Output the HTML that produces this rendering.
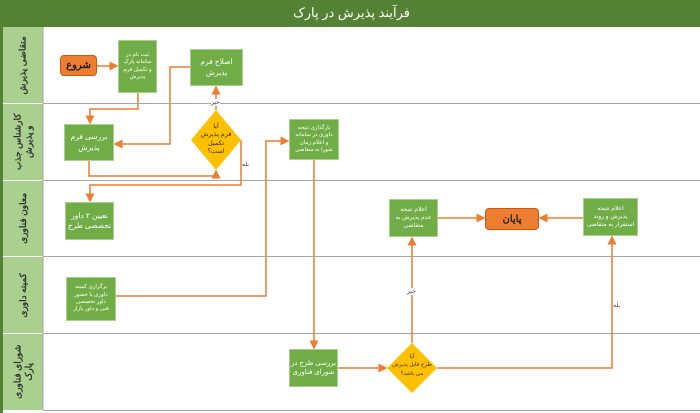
<!DOCTYPE html>
<html><head><meta charset="utf-8"><style>
body{margin:0;width:700px;height:413px;overflow:hidden;background:#fff;font-family:"Liberation Sans","Noto Sans CJK SC",sans-serif;}
.a{position:absolute;}
.b{position:absolute;background:#70ad47;border:1px solid #a9d08e;color:#fff;display:flex;align-items:center;justify-content:center;text-align:center;direction:rtl;font-size:7px;line-height:1.35;box-sizing:border-box;white-space:nowrap;overflow:hidden;}
.h{position:absolute;left:3px;width:40px;background:#a9d08e;display:flex;align-items:center;justify-content:center;}
.h span{transform:rotate(-90deg);white-space:nowrap;direction:rtl;font-size:9px;font-weight:bold;color:#333;text-align:center;line-height:1.2;}
.o{position:absolute;background:#ed7d31;border:1px solid #c55a11;border-radius:4px;display:flex;align-items:center;justify-content:center;font-weight:bold;font-size:10px;color:#222;box-sizing:border-box;}
.lb{position:absolute;font-size:6px;background:#fff;color:#333;}
</style></head><body>
<div class="a" style="left:0;top:0;width:700px;height:27px;background:#548235;"></div>
<div class="a" style="right:290px;top:5px;color:#fff;font-size:13px;direction:rtl;">فرآیند پذیرش در پارک</div>
<div class="a" style="left:0;top:27px;width:3px;height:386px;background:#548235"></div>
<div class="h" style="top:27px;height:76px"><span>متقاضی پذیرش</span></div>
<div class="h" style="top:104px;height:76px"><span>کارشناس جذب<br>و پذیرش</span></div>
<div class="h" style="top:181px;height:75px"><span>معاون فناوری</span></div>
<div class="h" style="top:257px;height:76px"><span>کمیته داوری</span></div>
<div class="h" style="top:334px;height:76px"><span>شورای فناوری<br>پارک</span></div>
<svg class="a" style="left:0;top:0" width="700" height="413">
<defs><marker id="m" markerWidth="6" markerHeight="6" refX="5" refY="3" orient="auto"><path d="M0,0L6,3L0,6z" fill="#ed7d31"/></marker></defs>
<g stroke="#a6a6a6" stroke-width="1"><line x1="43" y1="103.5" x2="700" y2="103.5"/><line x1="43" y1="180.5" x2="700" y2="180.5"/><line x1="43" y1="256.5" x2="700" y2="256.5"/><line x1="43" y1="333.5" x2="700" y2="333.5"/><line x1="43" y1="410.5" x2="700" y2="410.5"/><line x1="43" y1="27" x2="43" y2="410"/></g>
<g stroke="#ed7d31" stroke-width="1.5" fill="none" marker-end="url(#m)">
<path d="M97,66H117"/>
<path d="M138,93V109H90V123"/>
<path d="M89,161V176H216V171"/>
<path d="M216,110V87"/>
<path d="M190,67H170V144H115"/>
<path d="M241,140V185H90V201"/>
<path d="M116,296H266V141H288"/>
<path d="M314,160V348"/>
<path d="M338,368H386"/>
<path d="M412,343V238"/>
<path d="M437,368H612V237"/>
<path d="M438,218H484"/>
<path d="M583,218H540"/>
</g>
<polygon points="216,110 241,140 216,170 191,140" fill="#ffc000"/>
<polygon points="412,343 437,368 412,393 387,368" fill="#ffc000"/>
</svg>
<div class="lb" style="left:211px;top:99px">خیر</div>
<div class="lb" style="left:242px;top:161px">بله</div>
<div class="lb" style="left:407px;top:288px">خیر</div>
<div class="lb" style="left:613px;top:302px">بله</div>
<div class="a" style="left:196px;top:123px;width:40px;text-align:center;font-size:6.5px;line-height:1.3;direction:rtl;color:#333">آیا<br>فرم پذیرش<br>تکمیل<br>است؟</div>
<div class="a" style="left:386px;top:353px;width:52px;text-align:center;font-size:5.5px;line-height:1.5;direction:rtl;color:#333;white-space:nowrap">آیا<br>طرح قابل پذیرش<br>می باشد؟</div>
<div class="o" style="left:60px;top:55px;width:37px;height:21px">شروع</div>
<div class="o" style="left:485px;top:208px;width:54px;height:22px">پایان</div>
<div class="b" style="left:118px;top:40px;width:39px;height:53px;font-size:5.5px">ثبت نام در<br>سامانه پارک<br>و تکمیل فرم<br>پذیرش</div>
<div class="b" style="left:190px;top:49px;width:53px;height:37px;font-size:7.5px">اصلاح فرم<br>پذیرش</div>
<div class="b" style="left:64px;top:124px;width:50px;height:37px;font-size:7.5px">بررسی فرم<br>پذیرش</div>
<div class="b" style="left:289px;top:119px;width:50px;height:41px;font-size:5.5px">بارگذاری نتیجه<br>داوری در سامانه<br>و اعلام زمان<br>شورا به متقاضی</div>
<div class="b" style="left:65px;top:202px;width:49px;height:38px;font-size:7.5px">تعیین ۲ داور<br>تخصصی طرح</div>
<div class="b" style="left:66px;top:277px;width:50px;height:44px;font-size:5.5px">برگزاری کمیته<br>داوری با حضور<br>داور تخصصی<br>فنی و داور بازار</div>
<div class="b" style="left:289px;top:349px;width:49px;height:38px;font-size:7px">بررسی طرح در<br>شورای فناوری</div>
<div class="b" style="left:389px;top:199px;width:49px;height:38px;font-size:6px">اعلام نتیجه<br>عدم پذیرش به<br>متقاضی</div>
<div class="b" style="left:583px;top:198px;width:55px;height:38px;font-size:6px">اعلام نتیجه<br>پذیرش و روند<br>استقرار به متقاضی</div>
</body></html>
